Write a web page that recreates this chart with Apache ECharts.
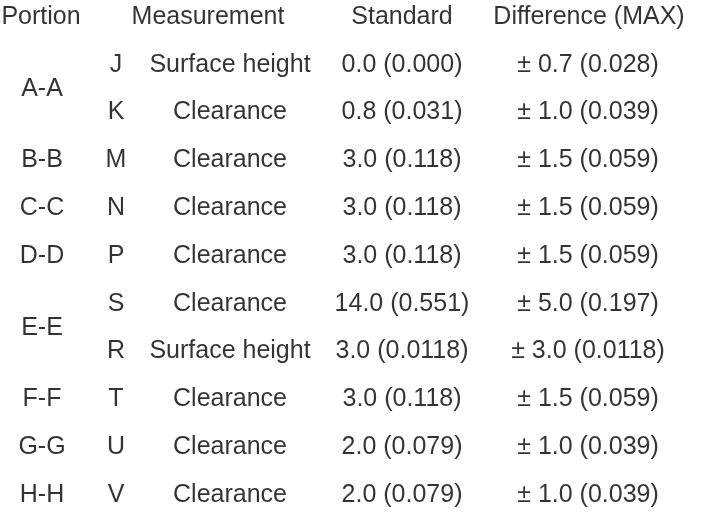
<!DOCTYPE html>
<html>
  <head>
    <meta charset="utf-8">
    <title>Portion measurements</title>
    <style>
      html, body { margin: 0; padding: 0; background: #ffffff; }
      #table { width: 704px; height: 512px; }
    </style>
  </head>
  <body>
    <div id="table"></div>
    <script src="https://cdn.jsdelivr.net/npm/echarts@6/dist/echarts.min.js"></script>
    <script>
      // table content
      var headers = ["Portion", "Measurement", "Standard", "Difference (MAX)"];
      var portions = ["A-A", "B-B", "C-C", "D-D", "E-E", "F-F", "G-G", "H-H"];
      var portionSpans = [2, 1, 1, 1, 2, 1, 1, 1];
      var letters = ["J", "K", "M", "N", "P", "S", "R", "T", "U", "V"];
      var measurements = ["Surface height", "Clearance", "Clearance", "Clearance", "Clearance",
        "Clearance", "Surface height", "Clearance", "Clearance", "Clearance"];
      var standards = ["0.0 (0.000)", "0.8 (0.031)", "3.0 (0.118)", "3.0 (0.118)", "3.0 (0.118)",
        "14.0 (0.551)", "3.0 (0.0118)", "3.0 (0.118)", "2.0 (0.079)", "2.0 (0.079)"];
      var differences = ["± 0.7 (0.028)", "± 1.0 (0.039)", "± 1.5 (0.059)", "± 1.5 (0.059)", "± 1.5 (0.059)",
        "± 5.0 (0.197)", "± 3.0 (0.0118)", "± 1.5 (0.059)", "± 1.0 (0.039)", "± 1.0 (0.039)"];

      // column centres on the x axis (page pixels)
      var headerX = [41, 208, 402, 589];
      var colX = { portion: 42, letter: 116, measurement: 230, standard: 402, difference: 588 };

      function cells(x, texts, rows) {
        return texts.map(function (t, i) {
          return { value: [x, rows ? rows[i] : i + 1], name: t };
        });
      }

      // portion rows sit in the middle of their span
      var portionRows = [];
      var start = 1;
      portionSpans.forEach(function (s) {
        portionRows.push(start + (s - 1) / 2);
        start += s;
      });

      var headerCells = headers.map(function (h, i) {
        return { value: [headerX[i], 0], name: h };
      });

      function textSeries(data) {
        return {
          type: "scatter",
          symbolSize: 0,
          silent: true,
          data: data,
          label: {
            show: true,
            position: "inside",
            formatter: "{b}",
            color: "#000000",
            fontFamily: "Liberation Sans, Arial, Helvetica, sans-serif",
            fontSize: 25
          }
        };
      }

      var chart = echarts.init(document.getElementById("table"));
      chart.setOption({
        backgroundColor: "#ffffff",
        animation: false,
        grid: { left: 0, right: 0, top: 17, bottom: 17 },
        xAxis: { type: "value", min: 0, max: 704, show: false },
        yAxis: { type: "value", min: 0, max: 10, inverse: true, show: false },
        series: [
          textSeries(headerCells),
          textSeries(cells(colX.portion, portions, portionRows)),
          textSeries(cells(colX.letter, letters)),
          textSeries(cells(colX.measurement, measurements)),
          textSeries(cells(colX.standard, standards)),
          textSeries(cells(colX.difference, differences))
        ]
      });
    </script>
  </body>
</html>
